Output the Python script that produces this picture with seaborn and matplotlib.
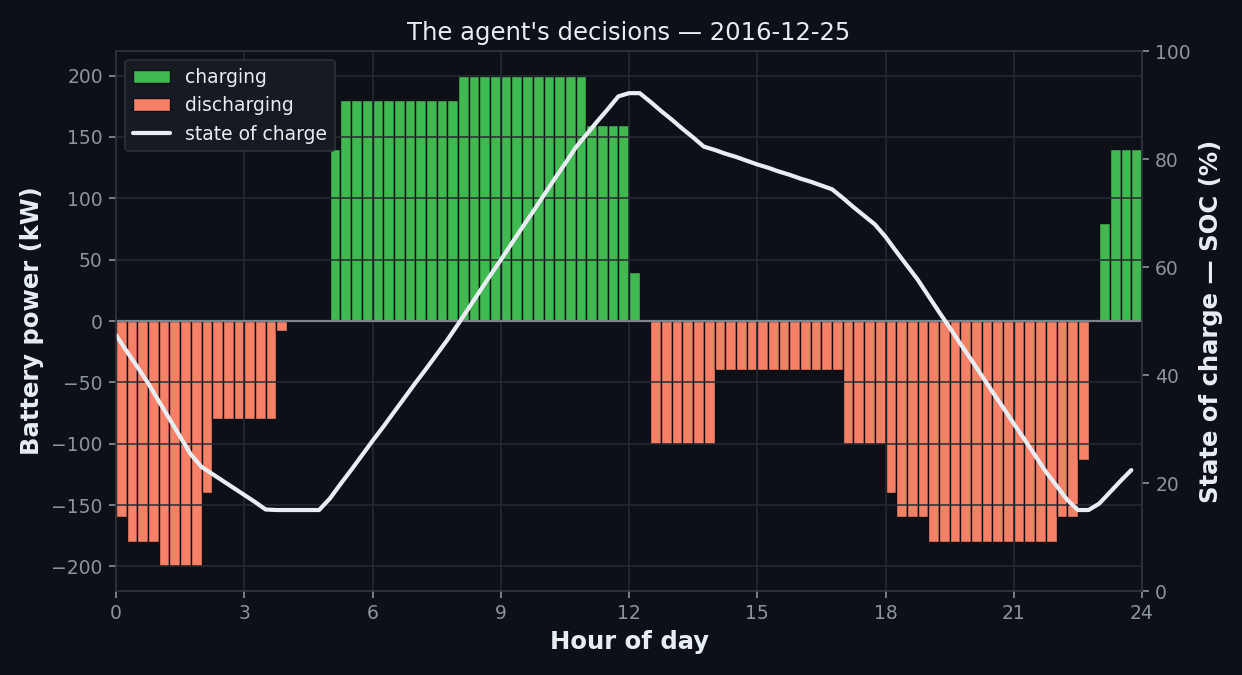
import numpy as np
import pandas as pd
import matplotlib
matplotlib.use("Agg")
import matplotlib.pyplot as plt
import seaborn as sns

# battery power per 15-min slot (kW), + = charging, - = discharging
power = [
    -160, -180, -180, -180, -200, -200, -200, -200,
    -140, -80, -80, -80, -80, -80, -80, -8,
    0, 0, 0, 0, 140, 180, 180, 180,
    180, 180, 180, 180, 180, 180, 180, 180,
    200, 200, 200, 200, 200, 200, 200, 200,
    200, 200, 200, 200, 160, 160, 160, 160,
    40, 0, -100, -100, -100, -100, -100, -100,
    -40, -40, -40, -40, -40, -40, -40, -40,
    -40, -40, -40, -40, -100, -100, -100, -100,
    -140, -160, -160, -160, -180, -180, -180, -180,
    -180, -180, -180, -180, -180, -180, -180, -180,
    -160, -160, -113, 0, 80, 140, 140, 140,
]

# state of charge (%) after each slot
soc = [
    47.4, 44.4, 41.5, 38.5, 35.2, 31.9, 28.6, 25.3,
    23.0, 21.7, 20.4, 19.1, 17.8, 16.5, 15.1, 15.0,
    15.0, 15.0, 15.0, 15.0, 17.1, 19.8, 22.4, 25.1,
    27.8, 30.4, 33.1, 35.8, 38.5, 41.1, 43.8, 46.5,
    49.4, 52.4, 55.4, 58.4, 61.3, 64.3, 67.3, 70.2,
    73.2, 76.2, 79.1, 82.1, 84.5, 86.9, 89.2, 91.6,
    92.2, 92.2, 90.6, 88.9, 87.3, 85.6, 84.0, 82.3,
    81.7, 81.0, 80.4, 79.7, 79.0, 78.4, 77.7, 77.1,
    76.4, 75.8, 75.1, 74.4, 72.8, 71.1, 69.5, 67.9,
    65.6, 62.9, 60.3, 57.7, 54.7, 51.7, 48.8, 45.8,
    42.9, 39.9, 36.9, 34.0, 31.0, 28.1, 25.1, 22.1,
    19.5, 16.9, 15.0, 15.0, 16.2, 18.3, 20.4, 22.4,
]

hours = np.arange(len(power)) * 0.25
df = pd.DataFrame({"hour": hours, "power": power, "soc": soc})

BG = "#0d1017"
TEXT = "#e6edf3"
MUTED = "#8b949e"
GRID = "#262b33"
SPINE = "#2d323a"
GREEN = "#3fb950"
SALMON = "#f78166"

sns.set_theme(style="dark", rc={
    "figure.facecolor": BG,
    "axes.facecolor": BG,
    "axes.edgecolor": SPINE,
    "axes.labelcolor": TEXT,
    "text.color": TEXT,
    "xtick.color": MUTED,
    "ytick.color": MUTED,
    "grid.color": GRID,
    "xtick.bottom": True,
    "ytick.left": True,
})
plt.rcParams["font.family"] = ["DejaVu Sans"]

fig, ax = plt.subplots(figsize=(12.42, 6.75), dpi=100)
fig.subplots_adjust(left=0.0934, right=0.9195, top=0.9244, bottom=0.1244)

chg = df["power"].clip(lower=0)
dis = df["power"].clip(upper=0)
ax.bar(df["hour"], chg, width=0.25, align="edge", color=GREEN,
       edgecolor=BG, linewidth=1.0, label="charging")
ax.bar(df["hour"], dis, width=0.25, align="edge", color=SALMON,
       edgecolor=BG, linewidth=1.0, label="discharging")
ax.axhline(0, color="#7d838c", linewidth=1.6, zorder=3)

ax.set_xlim(0, 24)
ax.set_ylim(-220, 220)
ax.set_xticks(range(0, 25, 3))
ax.set_yticks(range(-200, 201, 50))
ax.grid(True, color=GRID, linewidth=1.1)
ax.set_axisbelow(False)
ax.tick_params(labelsize=13.5, length=5, width=1.2, color=MUTED, pad=4.5)
ax.set_xlabel("Hour of day", fontsize=17.5, fontweight="bold", labelpad=5)
ax.set_ylabel("Battery power (kW)", fontsize=17.5, fontweight="bold", labelpad=5)
ax.set_title("The agent's decisions \u2014 2016-12-25", fontsize=17.5, color=TEXT, pad=8)
for s in ax.spines.values():
    s.set_color(SPINE)
    s.set_linewidth(1.2)

ax2 = ax.twinx()
sns.lineplot(data=df, x="hour", y="soc", ax=ax2, color="#e8edf3",
             linewidth=3.0, label="state of charge", legend=False)
ax2.set_ylim(0, 100)
ax2.set_yticks(range(0, 101, 20))
ax2.grid(False)
ax2.tick_params(axis="y", right=True, labelsize=13.5, length=5, width=1.2,
                color=MUTED, pad=4.5)
ax2.set_ylabel("State of charge \u2014 SOC (%)", fontsize=17.5, fontweight="bold",
               labelpad=6)
for s in ax2.spines.values():
    s.set_color(SPINE)
    s.set_linewidth(1.2)

h1, l1 = ax.get_legend_handles_labels()
h2, l2 = ax2.get_legend_handles_labels()
leg = ax2.legend(h1 + h2, l1 + l2, loc="upper left", fontsize=13.5,
                 facecolor="#161a21", edgecolor=SPINE, framealpha=1.0,
                 labelcolor=TEXT, borderaxespad=0.5)
leg.get_frame().set_linewidth(1.2)

fig.savefig("out.png", dpi=100, facecolor=BG)
